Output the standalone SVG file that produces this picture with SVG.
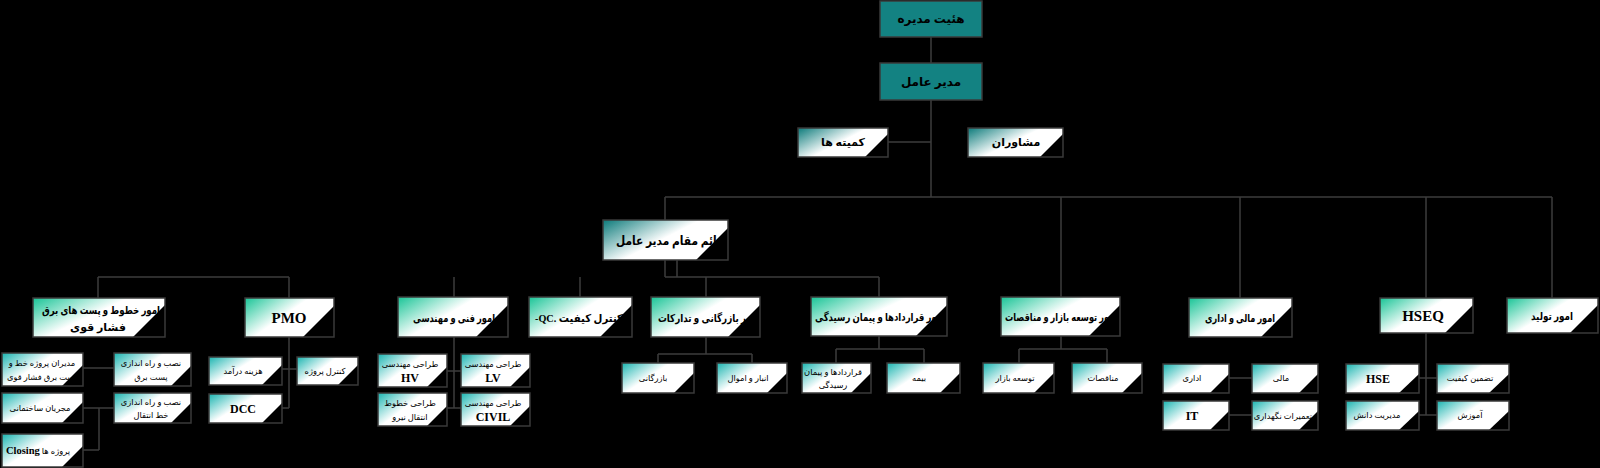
<svg xmlns="http://www.w3.org/2000/svg" width="1600" height="468" viewBox="0 0 1600 468">
<style>
.bg{fill:#000}
.c{stroke:#3c3c3c;stroke-width:1.5;fill:none}
.solid{fill:#138282;stroke:#3a3a3a;stroke-width:1.5}
.b1{fill:url(#g1)}
.b2{fill:url(#g2)}
.b3{fill:url(#g3)}
.tri{fill:#000}
.o{fill:none;stroke:#3a3a3a;stroke-width:1.5}
text{fill:#000;text-anchor:middle;font-family:"Liberation Serif","DejaVu Sans",serif}
.t0{font-size:12px;font-weight:bold}
.t1{font-size:11px;font-weight:bold}
.t2{font-size:11px;font-weight:bold}
.t3{font-size:8.3px}
.l2{font-size:15px;font-weight:bold}
.l3{font-size:12px;font-weight:bold}
</style>
<defs>
<linearGradient id="g1" x1="0" y1="0" x2="0.8" y2="0.5"><stop offset="0" stop-color="#0b7a7a"/><stop offset="0.7" stop-color="#ffffff"/></linearGradient>
<linearGradient id="g2" x1="0" y1="0" x2="0.8" y2="0.5"><stop offset="0" stop-color="#18c496"/><stop offset="0.65" stop-color="#ffffff"/></linearGradient>
<linearGradient id="g3" x1="0" y1="0" x2="0.8" y2="0.5"><stop offset="0" stop-color="#1ab4b0"/><stop offset="0.6" stop-color="#ffffff"/></linearGradient>
</defs>
<rect class="bg" x="0" y="0" width="1600" height="468"/>

<g id="connectors">
<path class="c" d="M931,37V63 M931,100V197 M888,142H931"/>
<path class="c" d="M665,197H1552 M665,197V277 M1061,197V297 M1240,197V298 M1426,197V298 M1552,197V298"/>
<path class="c" d="M98,277H289 M98,277V298 M289,277V298 M454,277V297 M580,277V297"/>
<path class="c" d="M665,277H879 M677,260V277 M706,277V297 M879,277V297"/>
<path class="c" d="M289,337V408 M282,369H297 M282,408H289"/>
<path class="c" d="M83,368H114 M83,408H114 M99,408V450 M83,450H99"/>
<path class="c" d="M454,337V408 M447,371H461 M447,408H461"/>
<path class="c" d="M706,337V354 M658,354H752 M658,354V363 M752,354V363"/>
<path class="c" d="M879,336V349 M836,349H924 M836,349V363 M924,349V363"/>
<path class="c" d="M1061,336V349 M1019,349H1107 M1019,349V363 M1107,349V363"/>
<path class="c" d="M1229,378H1252 M1229,415H1252"/>
<path class="c" d="M1426,333V415 M1419,378H1437 M1419,415H1437"/>
</g>

<g id="n-board"><rect class="solid" x="880" y="1" width="102" height="36"/><text class="t0" x="931" y="23">هئیت مدیره</text></g>
<g id="n-ceo"><rect class="solid" x="880" y="63" width="102" height="37"/><text class="t0" x="931" y="86">مدیر عامل</text></g>

<g id="n-committees"><rect class="b1" x="798" y="128" width="90" height="29"/><text class="t1" x="843" y="146">کمیته ها</text><polygon class="tri" points="865,157 888,134 888,157"/><rect class="o" x="798" y="128" width="90" height="29"/></g>
<g id="n-advisors"><rect class="b1" x="968" y="128" width="95" height="29"/><text class="t1" x="1016" y="146">مشاوران</text><polygon class="tri" points="1040,157 1063,134 1063,157"/><rect class="o" x="968" y="128" width="95" height="29"/></g>
<g id="n-deputy"><rect class="b1" x="603" y="220" width="125" height="40"/><text class="t2" x="670" y="245" style="font-size:12.5px" textLength="108" lengthAdjust="spacingAndGlyphs">قائم مقام مدیر عامل</text><polygon class="tri" points="696,260 728,228 728,260"/><rect class="o" x="603" y="220" width="125" height="40"/></g>

<g id="n-lines"><rect class="b2" x="33" y="298" width="132" height="39"/><text class="t2" x="101" y="314" textLength="118" lengthAdjust="spacingAndGlyphs">امور خطوط و پست های برق</text><text class="t2" x="98" y="331">فشار قوی</text><polygon class="tri" points="133,337 165,305 165,337"/><rect class="o" x="33" y="298" width="132" height="39"/></g>
<g id="n-pmo"><rect class="b2" x="245" y="298" width="89" height="39"/><text class="l2" x="289" y="323">PMO</text><polygon class="tri" points="303,337 334,306 334,337"/><rect class="o" x="245" y="298" width="89" height="39"/></g>
<g id="n-eng"><rect class="b2" x="398" y="297" width="110" height="40"/><text class="t2" x="454" y="322" textLength="82" lengthAdjust="spacingAndGlyphs">امور فنی و مهندسی</text><polygon class="tri" points="476,337 508,305 508,337"/><rect class="o" x="398" y="297" width="110" height="40"/></g>
<g id="n-qc"><rect class="b2" x="529" y="297" width="103" height="40"/><text class="t2" x="579" y="322" textLength="88" lengthAdjust="spacingAndGlyphs">-QC. کنترل کیفیت</text><polygon class="tri" points="600,337 632,305 632,337"/><rect class="o" x="529" y="297" width="103" height="40"/></g>
<g id="n-commerce"><rect class="b2" x="651" y="297" width="109" height="40"/><text class="t2" x="709" y="322" textLength="102" lengthAdjust="spacingAndGlyphs">امور بازرگانی و تدارکات</text><polygon class="tri" points="728,337 760,305 760,337"/><rect class="o" x="651" y="297" width="109" height="40"/></g>
<g id="n-contracts"><rect class="b2" x="811" y="297" width="136" height="39"/><text class="t2" x="880" y="321" textLength="130" lengthAdjust="spacingAndGlyphs">امور قراردادها و پیمان رسیدگی</text><polygon class="tri" points="916,336 947,305 947,336"/><rect class="o" x="811" y="297" width="136" height="39"/></g>
<g id="n-market"><rect class="b2" x="1001" y="297" width="119" height="39"/><text class="t2" x="1061" y="321" textLength="112" lengthAdjust="spacingAndGlyphs">امور توسعه بازار و مناقصات</text><polygon class="tri" points="1089,336 1120,305 1120,336"/><rect class="o" x="1001" y="297" width="119" height="39"/></g>
<g id="n-finance"><rect class="b2" x="1189" y="298" width="103" height="39"/><text class="t2" x="1240" y="322" textLength="70" lengthAdjust="spacingAndGlyphs">امور مالی و اداری</text><polygon class="tri" points="1261,337 1292,306 1292,337"/><rect class="o" x="1189" y="298" width="103" height="39"/></g>
<g id="n-hseq"><rect class="b2" x="1380" y="298" width="93" height="35"/><text class="l2" x="1423" y="321">HSEQ</text><polygon class="tri" points="1445,333 1473,305 1473,333"/><rect class="o" x="1380" y="298" width="93" height="35"/></g>
<g id="n-production"><rect class="b2" x="1507" y="298" width="91" height="35"/><text class="t2" x="1552" y="320" textLength="42" lengthAdjust="spacingAndGlyphs">امور تولید</text><polygon class="tri" points="1570,333 1598,305 1598,333"/><rect class="o" x="1507" y="298" width="91" height="35"/></g>

<g id="n-pm-lines"><rect class="b3" x="2" y="353" width="81" height="33"/><text class="t3" x="42" y="366">مدیران پروژه خط و</text><text class="t3" x="42" y="380">پست برق فشار قوی</text><polygon class="tri" points="62,386 83,365 83,386"/><rect class="o" x="2" y="353" width="81" height="33"/></g>
<g id="n-substation"><rect class="b3" x="114" y="353" width="77" height="33"/><text class="t3" x="151" y="366">نصب و راه اندازی</text><text class="t3" x="151" y="380">پست برق</text><polygon class="tri" points="171,386 191,366 191,386"/><rect class="o" x="114" y="353" width="77" height="33"/></g>
<g id="n-civil-exec"><rect class="b3" x="2" y="393" width="81" height="30"/><text class="t3" x="40" y="411">مجریان ساختمانی</text><polygon class="tri" points="62,423 83,402 83,423"/><rect class="o" x="2" y="393" width="81" height="30"/></g>
<g id="n-line-install"><rect class="b3" x="114" y="393" width="77" height="30"/><text class="t3" x="151" y="405">نصب و راه اندازی</text><text class="t3" x="151" y="418">خط انتقال</text><polygon class="tri" points="171,423 191,403 191,423"/><rect class="o" x="114" y="393" width="77" height="30"/></g>
<g id="n-closing"><rect class="b3" x="2" y="434" width="81" height="33"/><text class="t3" x="38" y="454"><tspan style="font-size:10.5px;font-weight:bold">Closing</tspan> پروژه ها</text><polygon class="tri" points="62,467 83,446 83,467"/><rect class="o" x="2" y="434" width="81" height="33"/></g>

<g id="n-cost"><rect class="b3" x="209" y="357" width="73" height="28"/><text class="t3" x="243" y="374">هزینه درآمد</text><polygon class="tri" points="262,385 282,365 282,385"/><rect class="o" x="209" y="357" width="73" height="28"/></g>
<g id="n-project-control"><rect class="b3" x="297" y="357" width="61" height="28"/><text class="t3" x="325" y="374">کنترل پروژه</text><polygon class="tri" points="338,385 358,365 358,385"/><rect class="o" x="297" y="357" width="61" height="28"/></g>
<g id="n-dcc"><rect class="b3" x="209" y="394" width="73" height="29"/><text class="l3" x="243" y="413">DCC</text><polygon class="tri" points="262,423 282,403 282,423"/><rect class="o" x="209" y="394" width="73" height="29"/></g>

<g id="n-hv"><rect class="b3" x="378" y="354" width="69" height="33"/><text class="t3" x="410" y="367">طراحی مهندسی</text><text class="l3" x="410" y="382">HV</text><polygon class="tri" points="427,387 447,367 447,387"/><rect class="o" x="378" y="354" width="69" height="33"/></g>
<g id="n-lv"><rect class="b3" x="461" y="354" width="69" height="33"/><text class="t3" x="493" y="367">طراحی مهندسی</text><text class="l3" x="493" y="382">LV</text><polygon class="tri" points="510,387 530,367 530,387"/><rect class="o" x="461" y="354" width="69" height="33"/></g>
<g id="n-transmission"><rect class="b3" x="378" y="393" width="69" height="33"/><text class="t3" x="410" y="406">طراحی خطوط</text><text class="t3" x="410" y="420">انتقال نیرو</text><polygon class="tri" points="427,426 447,406 447,426"/><rect class="o" x="378" y="393" width="69" height="33"/></g>
<g id="n-civil"><rect class="b3" x="461" y="393" width="69" height="33"/><text class="t3" x="493" y="406">طراحی مهندسی</text><text class="l3" x="493" y="421">CIVIL</text><polygon class="tri" points="510,426 530,406 530,426"/><rect class="o" x="461" y="393" width="69" height="33"/></g>

<g id="n-trade"><rect class="b3" x="622" y="363" width="72" height="30"/><text class="t3" x="653" y="381">بازرگانی</text><polygon class="tri" points="674,393 694,373 694,393"/><rect class="o" x="622" y="363" width="72" height="30"/></g>
<g id="n-warehouse"><rect class="b3" x="717" y="363" width="70" height="30"/><text class="t3" x="748" y="381">انبار و اموال</text><polygon class="tri" points="767,393 787,373 787,393"/><rect class="o" x="717" y="363" width="70" height="30"/></g>

<g id="n-contracts-sub"><rect class="b3" x="802" y="363" width="69" height="30"/><text class="t3" x="833" y="375">قراردادها و پیمان</text><text class="t3" x="833" y="388">رسیدگی</text><polygon class="tri" points="851,393 871,373 871,393"/><rect class="o" x="802" y="363" width="69" height="30"/></g>
<g id="n-insurance"><rect class="b3" x="887" y="363" width="73" height="30"/><text class="t3" x="919" y="381">بیمه</text><polygon class="tri" points="940,393 960,373 960,393"/><rect class="o" x="887" y="363" width="73" height="30"/></g>

<g id="n-market-dev"><rect class="b3" x="983" y="363" width="71" height="30"/><text class="t3" x="1015" y="381">توسعه بازار</text><polygon class="tri" points="1034,393 1054,373 1054,393"/><rect class="o" x="983" y="363" width="71" height="30"/></g>
<g id="n-tenders"><rect class="b3" x="1072" y="363" width="70" height="30"/><text class="t3" x="1103" y="381">مناقصات</text><polygon class="tri" points="1122,393 1142,373 1142,393"/><rect class="o" x="1072" y="363" width="70" height="30"/></g>

<g id="n-admin"><rect class="b3" x="1163" y="364" width="66" height="29"/><text class="t3" x="1192" y="381">اداری</text><polygon class="tri" points="1210,393 1229,374 1229,393"/><rect class="o" x="1163" y="364" width="66" height="29"/></g>
<g id="n-fin"><rect class="b3" x="1252" y="364" width="66" height="29"/><text class="t3" x="1281" y="381">مالی</text><polygon class="tri" points="1299,393 1318,374 1318,393"/><rect class="o" x="1252" y="364" width="66" height="29"/></g>
<g id="n-it"><rect class="b3" x="1163" y="401" width="66" height="29"/><text class="l3" x="1192" y="420">IT</text><polygon class="tri" points="1210,430 1229,411 1229,430"/><rect class="o" x="1163" y="401" width="66" height="29"/></g>
<g id="n-maintenance"><rect class="b3" x="1252" y="401" width="66" height="29"/><text class="t3" x="1283" y="419">تعمیرات نگهداری</text><polygon class="tri" points="1299,430 1318,411 1318,430"/><rect class="o" x="1252" y="401" width="66" height="29"/></g>

<g id="n-hse"><rect class="b3" x="1346" y="364" width="73" height="29"/><text class="l3" x="1378" y="383">HSE</text><polygon class="tri" points="1399,393 1419,374 1419,393"/><rect class="o" x="1346" y="364" width="73" height="29"/></g>
<g id="n-qa"><rect class="b3" x="1437" y="364" width="72" height="29"/><text class="t3" x="1470" y="381">تضمین کیفیت</text><polygon class="tri" points="1489,393 1509,374 1509,393"/><rect class="o" x="1437" y="364" width="72" height="29"/></g>
<g id="n-km"><rect class="b3" x="1346" y="401" width="73" height="29"/><text class="t3" x="1377" y="418">مدیریت دانش</text><polygon class="tri" points="1399,430 1419,411 1419,430"/><rect class="o" x="1346" y="401" width="73" height="29"/></g>
<g id="n-training"><rect class="b3" x="1437" y="401" width="72" height="29"/><text class="t3" x="1470" y="418">آموزش</text><polygon class="tri" points="1489,430 1509,411 1509,430"/><rect class="o" x="1437" y="401" width="72" height="29"/></g>
</svg>
